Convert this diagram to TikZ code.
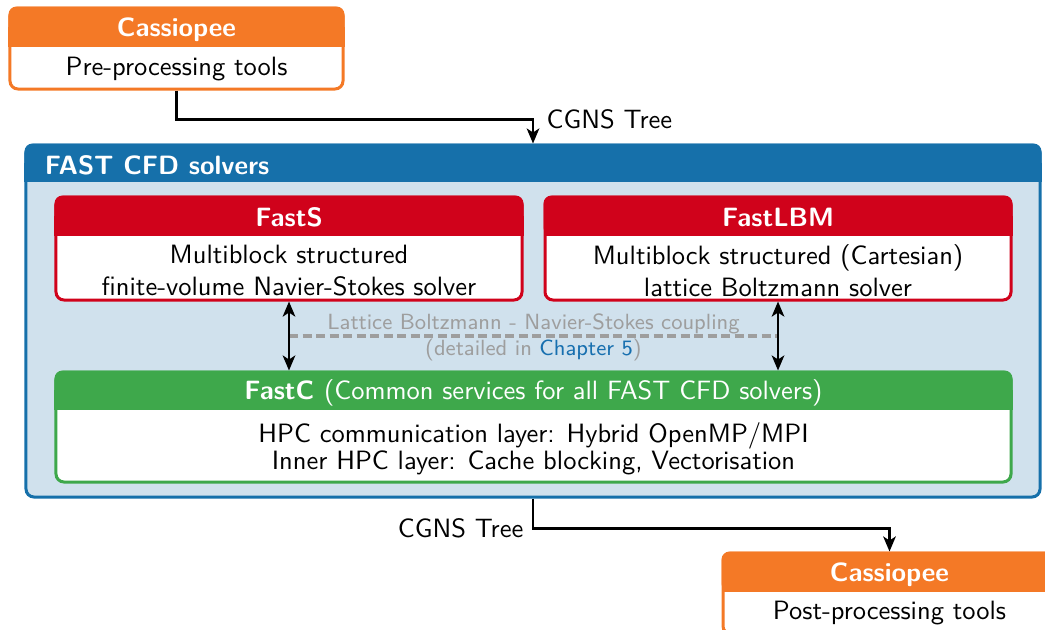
\documentclass[tikz,border=0pt]{standalone}
\usepackage{tikz}
\usetikzlibrary{arrows.meta,positioning,calc}

\definecolor{cassorange}{RGB}{244,121,38}
\definecolor{fastred}{RGB}{208,2,27}
\definecolor{fastblue}{RGB}{22,112,170}
\definecolor{fastbg}{RGB}{208,225,237}
\definecolor{fastgreen}{RGB}{62,168,75}
\definecolor{couplegray}{RGB}{158,158,158}
\definecolor{linkblue}{RGB}{23,111,175}

\begin{document}
\begin{tikzpicture}[
    x=0.4pt, y=-0.4pt,
    >=Stealth,
    font=\sffamily\fontsize{10.6}{12.8}\selectfont,
    frame/.style={rectangle, draw=#1, fill=white, line width=1.2pt,
                  rounded corners=3.2pt, inner sep=0pt},
    head/.style={fill=#1, rounded corners=3.2pt},
    patch/.style={fill=#1},
    title/.style={text=white, font=\sffamily\bfseries\fontsize{10.6}{12.8}\selectfont},
    body/.style={align=center},
    flow/.style={-{Stealth[length=6pt,width=5pt,inset=1.6pt]}, line width=1.1pt},
    link/.style={{Stealth[length=6pt,width=5pt,inset=1.6pt]}-{Stealth[length=6pt,width=5pt,inset=1.6pt]}, line width=1.1pt},
    coupling/.style={draw=couplegray, line width=1.3pt, dash pattern=on 3.6pt off 1.8pt},
    note/.style={text=couplegray, font=\sffamily\fontsize{8.8}{10.5}\selectfont}
  ]
  \useasboundingbox (0,0) rectangle (1045,629);

  % FAST CFD solvers (outer box)
  \node[frame=fastblue, fill=fastbg, minimum width=405.6pt, minimum height=140.8pt] (fast) at (533,321) {};
  \fill[head=fastblue] (fast.north west) rectangle ($(fast.north east)+(0,38)$);
  \fill[patch=fastblue] ($(fast.north west)+(0,19)$) rectangle ($(fast.north east)+(0,38)$);
  \node[title, anchor=west] (fastt) at (36,165) {FAST CFD solvers};

  % Cassiopee pre-processing
  \node[frame=cassorange, minimum width=133.2pt, minimum height=32.4pt] (pre) at (176.5,48.5) {};
  \fill[head=cassorange] (pre.north west) rectangle ($(pre.north east)+(0,40)$);
  \fill[patch=cassorange] ($(pre.north west)+(0,20)$) rectangle ($(pre.north east)+(0,40)$);
  \node[title] (pret) at ($(pre.north)+(0,23)$) {Cassiopee};
  \node[body] (preb) at ($(pre.north)+(0,63)$) {Pre-processing tools};

  % FastS
  \node[frame=fastred, minimum width=186.4pt, minimum height=41.2pt] (fasts) at (289,248.5) {};
  \fill[head=fastred] (fasts.north west) rectangle ($(fasts.north east)+(0,40)$);
  \fill[patch=fastred] ($(fasts.north west)+(0,20)$) rectangle ($(fasts.north east)+(0,40)$);
  \node[title] (fastst) at ($(fasts.north)+(0,22)$) {FastS};
  \node[body] (fastsb) at ($(fasts.north)+(0,75)$) {Multiblock structured\\finite-volume Navier-Stokes solver};

  % FastLBM
  \node[frame=fastred, minimum width=186.4pt, minimum height=41.2pt] (lbm) at (778,248.5) {};
  \fill[head=fastred] (lbm.north west) rectangle ($(lbm.north east)+(0,40)$);
  \fill[patch=fastred] ($(lbm.north west)+(0,20)$) rectangle ($(lbm.north east)+(0,40)$);
  \node[title] (lbmt) at ($(lbm.north)+(0,22)$) {FastLBM};
  \node[body] (lbmb) at ($(lbm.north)+(0,75)$) {Multiblock structured (Cartesian)\\lattice Boltzmann solver};

  % FastC
  \node[frame=fastgreen, minimum width=382pt, minimum height=44pt] (fastc) at (533.5,427) {};
  \fill[head=fastgreen] (fastc.north west) rectangle ($(fastc.north east)+(0,39)$);
  \fill[patch=fastgreen] ($(fastc.north west)+(0,19)$) rectangle ($(fastc.north east)+(0,39)$);
  \node[title] (fastct) at ($(fastc.north)+(0,22)$) {FastC \mdseries(Common services for all FAST CFD solvers)};
  \node[body, font=\sffamily\fontsize{10.6}{10.8}\selectfont] (fastcb) at ($(fastc.north)+(0,78)$) {HPC communication layer: Hybrid OpenMP/MPI\\Inner HPC layer: Cache blocking, Vectorisation};

  % Cassiopee post-processing
  \node[frame=cassorange, minimum width=133.2pt, minimum height=32.4pt] (post) at (889.5,593.5) {};
  \fill[head=cassorange] (post.north west) rectangle ($(post.north east)+(0,40)$);
  \fill[patch=cassorange] ($(post.north west)+(0,20)$) rectangle ($(post.north east)+(0,40)$);
  \node[title] (postt) at ($(post.north)+(0,23)$) {Cassiopee};
  \node[body] (postb) at ($(post.north)+(0,62)$) {Post-processing tools};

  % LBM - NS coupling
  \coordinate (cl) at ($(fasts.south)!0.5!(fasts.south |- fastc.north)$);
  \coordinate (cr) at ($(lbm.south)!0.5!(lbm.south |- fastc.north)$);
  \draw[coupling] (cl) -- (cr);
  \node[note] (couplet) at ($(cl)!0.5!(cr)+(0,-12)$) {Lattice Boltzmann - Navier-Stokes coupling};
  \node[note] (coupleb) at ($(cl)!0.5!(cr)+(0,14)$) {(detailed in \textcolor{linkblue}{Chapter 5})};
  \draw[link] (fasts.south) -- (fasts.south |- fastc.north);
  \draw[link] (lbm.south) -- (lbm.south |- fastc.north);

  % CGNS trees in and out
  \draw[flow] (pre.south) -- ++(0,29) -| node[pos=0.5, anchor=west, xshift=1.6pt] (cgnsin) {CGNS Tree} (fast.north);
  \draw[flow] (fast.south) -- ++(0,30) node[anchor=east] (cgnsout) {CGNS Tree} -| (post.north);
\end{tikzpicture}
\end{document}
